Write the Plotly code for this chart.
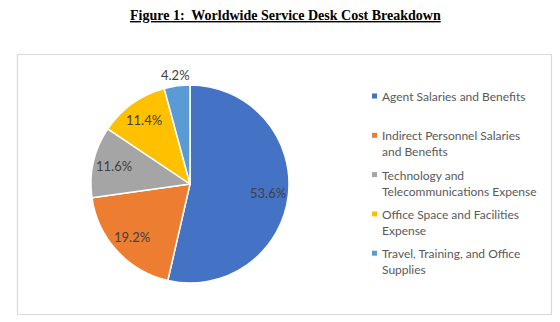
import math
import plotly.graph_objects as go

categories = [
    "Agent Salaries and Benefits",
    "Indirect Personnel Salaries and Benefits",
    "Technology and Telecommunications Expense",
    "Office Space and Facilities Expense",
    "Travel, Training, and Office Supplies",
]
legend_labels = [
    "Agent Salaries and Benefits",
    "Indirect Personnel Salaries<br>and Benefits",
    "Technology and<br>Telecommunications Expense",
    "Office Space and Facilities<br>Expense",
    "Travel, Training, and Office<br>Supplies",
]
values = [53.6, 19.2, 11.6, 11.4, 4.2]
label_outside = [False, False, False, False, True]
colors = ["#4472C4", "#ED7D31", "#A5A5A5", "#FFC000", "#5B9BD5"]
title_text = "Figure 1:  Worldwide Service Desk Cost Breakdown"

W, H = 560, 322


def px(x):
    return x / W


def py(y):
    return 1 - y / H


# pie geometry (pixels)
cx, cy0, R = 190, 184, 99

fig = go.Figure()
fig.add_trace(go.Pie(
    labels=categories,
    values=values,
    sort=False,
    direction="clockwise",
    rotation=0,
    marker=dict(colors=colors, line=dict(color="white", width=1.5)),
    textinfo="none",
    domain=dict(x=[px(cx - R), px(cx + R)], y=[py(cy0 + R), py(cy0 - R)]),
    showlegend=False,
    hoverinfo="label+percent",
))

shapes = [dict(type="rect", xref="paper", yref="paper",
               x0=px(17.5), x1=px(551.5), y0=py(314.5), y1=py(54.5),
               line=dict(color="#d9d9d9", width=1.2), fillcolor="rgba(0,0,0,0)")]
annotations = [dict(text="<b><u>" + title_text + "</u></b>", xref="paper", yref="paper",
                    x=px(285), y=py(16), xanchor="center", yanchor="middle",
                    showarrow=False,
                    font=dict(family="Liberation Serif", size=14, color="#000000"))]

# data labels placed from cumulative slice angles
total = sum(values)
cum = 0.0
for v, outside in zip(values, label_outside):
    mid = (cum + v / 2) / total * 2 * math.pi
    cum += v
    r = R * (1.11 if outside else 0.79)
    lx = cx + r * math.sin(mid)
    ly = cy0 - r * math.cos(mid)
    annotations.append(dict(text=f"{v:.1f}%", xref="paper", yref="paper",
                            x=px(lx), y=py(ly), xanchor="center", yanchor="middle",
                            showarrow=False,
                            font=dict(family="Lato", size=13, color="#404040")))

top0 = 96
step = 39.3
for i, (lab, col) in enumerate(zip(legend_labels, colors)):
    yc = top0 + step * i
    shapes.append(dict(type="rect", xref="paper", yref="paper",
                       x0=px(372), x1=px(377), y0=py(yc + 2.5), y1=py(yc - 2.5),
                       line=dict(width=0), fillcolor=col))
    annotations.append(dict(text=lab, xref="paper", yref="paper",
                            x=px(380), y=py(yc - 9), xanchor="left", yanchor="top",
                            align="left", showarrow=False,
                            font=dict(family="Lato", size=12, color="#595959")))

fig.update_layout(
    width=W, height=H,
    margin=dict(l=0, r=0, t=0, b=0),
    paper_bgcolor="white",
    plot_bgcolor="white",
    shapes=shapes,
    annotations=annotations,
)

fig.write_html("out.html")
